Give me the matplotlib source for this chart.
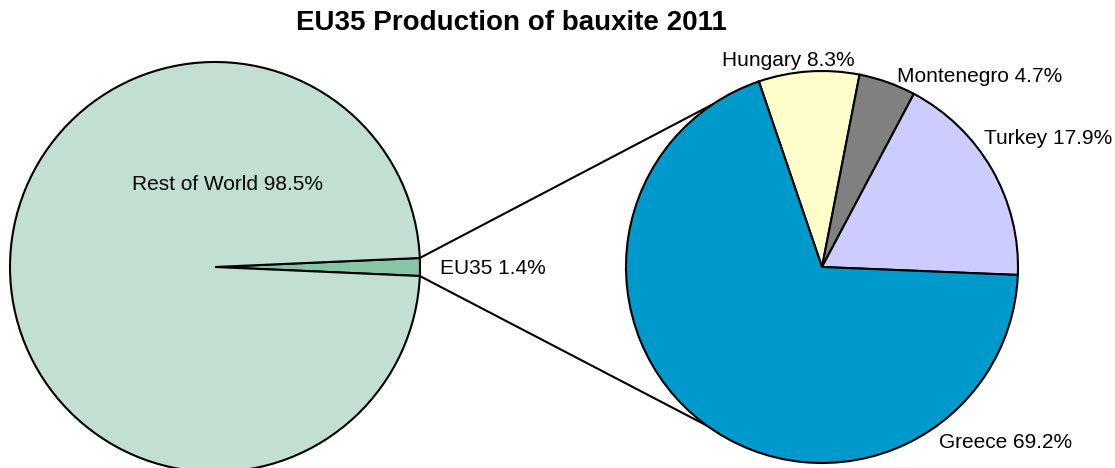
import numpy as np
import matplotlib.pyplot as plt

plt.rcParams['font.family'] = ['Liberation Sans', 'DejaVu Sans']

# --- data ---
world_labels = ["EU35", "Rest of World"]
world_values = [1.4, 98.5]
world_colors = ["#88C4A8", "#C2E0D2"]

eu_labels = ["Hungary", "Montenegro", "Turkey", "Greece"]
eu_values = [8.3, 4.7, 17.9, 69.2]
eu_colors = ["#FFFFCC", "#808080", "#CCCCFF", "#0099CC"]

# geometry in pixel units (y measured from bottom)
W, H = 1115, 468
c1, r1 = (215, 201), 205
c2, r2 = (822, 201), 196

fig = plt.figure(figsize=(W / 100, H / 100), dpi=100)
ax = fig.add_axes([0, 0, 1, 1])

wedge_kw = dict(edgecolor="black", linewidth=1.5)

# left pie, EU35 slice centred on 0 deg
half = world_values[0] / sum(world_values) * 360 / 2
ax.pie(world_values, colors=world_colors, center=c1, radius=r1,
       startangle=-half, counterclock=True, wedgeprops=wedge_kw)

# right pie, clockwise from Hungary
ax.pie(eu_values, colors=eu_colors, center=c2, radius=r2,
       startangle=108.8, counterclock=False, wedgeprops=wedge_kw)

# connector lines from EU35 slice to the second pie
for a1, a2 in [(half, 124), (-half, 234)]:
    x0 = c1[0] + r1 * np.cos(np.radians(a1))
    y0 = c1[1] + r1 * np.sin(np.radians(a1))
    x1 = c2[0] + r2 * np.cos(np.radians(a2))
    y1 = c2[1] + r2 * np.sin(np.radians(a2))
    ax.plot([x0, x1], [y0, y1], color="black", lw=1.5, zorder=0.5)

ax.set_xlim(0, W)
ax.set_ylim(0, H)
ax.set_aspect("auto")
ax.axis("off")

fs = 15
ax.text(227, H - 184, f"{world_labels[1]} {world_values[1]}%", fontsize=fs, ha="center", va="center")
ax.text(440, H - 268, f"{world_labels[0]} {world_values[0]}%", fontsize=fs, ha="left", va="center")
ax.text(788, H - 60, f"{eu_labels[0]} {eu_values[0]}%", fontsize=fs, ha="center", va="center")
ax.text(897, H - 76, f"{eu_labels[1]} {eu_values[1]}%", fontsize=fs, ha="left", va="center")
ax.text(984, H - 139, f"{eu_labels[2]} {eu_values[2]}%", fontsize=fs, ha="left", va="center")
ax.text(939, H - 442, f"{eu_labels[3]} {eu_values[3]}%", fontsize=fs, ha="left", va="center")

ax.text(511, H - 23, "EU35 Production of bauxite 2011", fontsize=20,
        fontweight="bold", ha="center", va="center")

fig.savefig("out.png", dpi=100)
